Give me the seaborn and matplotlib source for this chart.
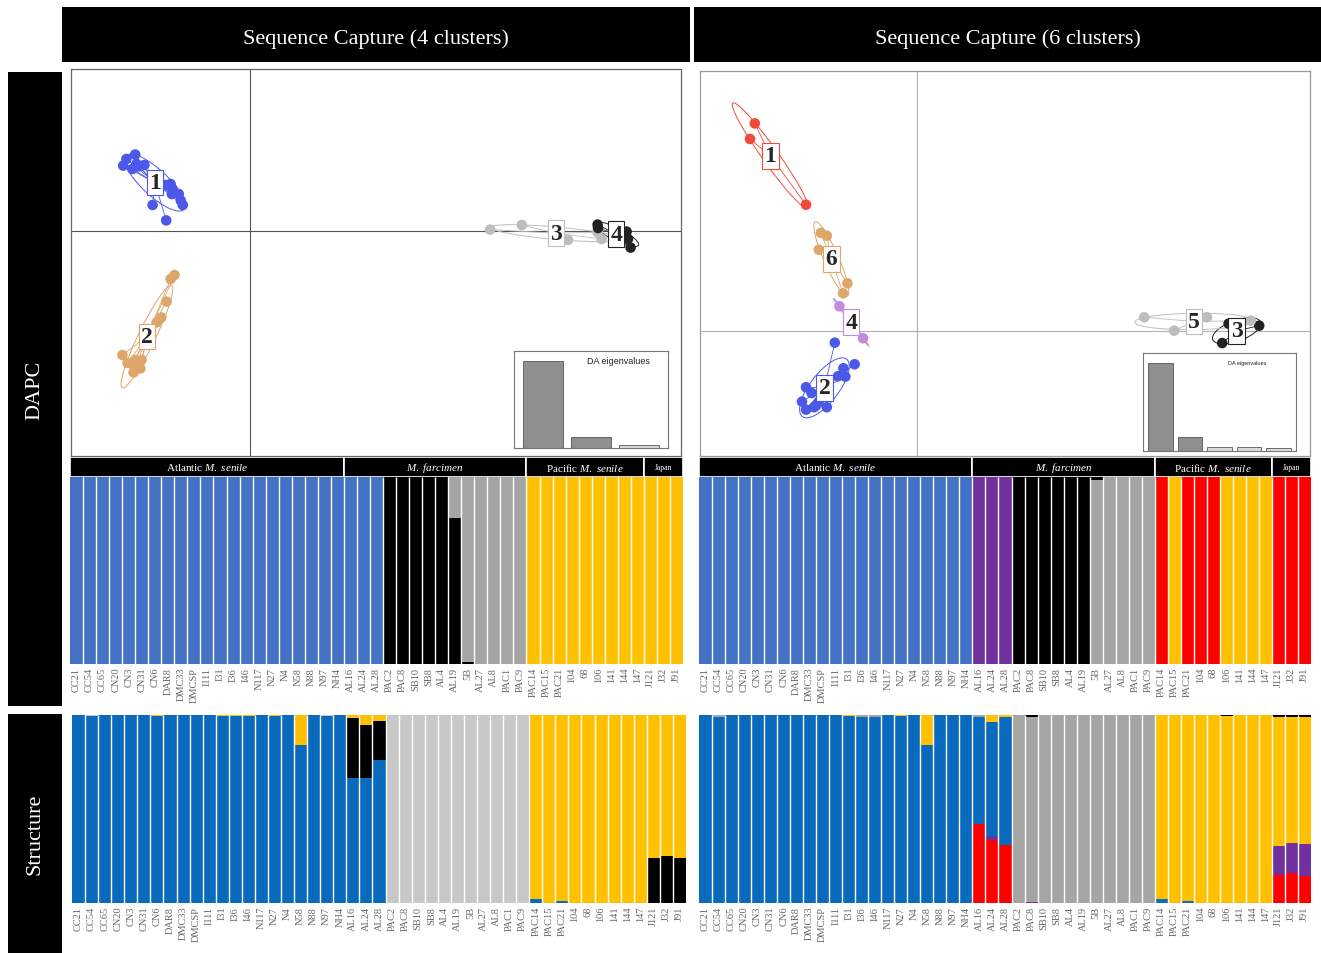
import numpy as np
import pandas as pd
import matplotlib
matplotlib.use("Agg")
import matplotlib.pyplot as plt
from matplotlib.patches import Ellipse, Rectangle
import seaborn as sns

sns.set_theme(style="white")
plt.rcParams['font.family'] = ['Liberation Serif', 'DejaVu Serif']
plt.rcParams['mathtext.fontset'] = 'custom'
plt.rcParams['mathtext.rm'] = 'Liberation Serif'
plt.rcParams['mathtext.it'] = 'Liberation Serif:italic'

W, H = 1321, 954

# ---------------- sample order / groups ----------------
samples = ["CC21", "CC54", "CC65", "CN20", "CN3", "CN31", "CN6", "DAR8", "DMC33", "DMCSP", "I111",
           "I31", "I36", "I46", "N117", "N27", "N4", "N58", "N88", "N97", "NH4",
           "AL16", "AL24", "AL28", "PAC2", "PAC8", "SB10", "SB8", "AL4", "AL19",
           "5B", "AL27", "AL8", "PAC1", "PAC9",
           "PAC14", "PAC15", "PAC21", "104", "68", "106", "141", "144", "147",
           "J121", "J32", "J91"]
group_names = ["Atlantic $\\mathit{M.\\ senile}$", "$\\mathit{M.\\ farcimen}$",
               "Pacific $\\mathit{M.\\ senile}$", "Japan"]
group_sizes = [21, 14, 9, 3]
group_fontsize = [8, 8, 8, 5.5]

# ---------------- DAPC assignments, 4 clusters (bottom -> top) ----------------
# rows: Atlantic(21) | AL16-AL28 | PAC2-AL19 | 5B-PAC9 | Pacific(9) | Japan(3)
dapc4_blue = [1, 1, 1, 1, 1, 1, 1, 1, 1, 1, 1, 1, 1, 1, 1, 1, 1, 1, 1, 1, 1,
              1, 1, 1, 0, 0, 0, 0, 0, 0, 0, 0, 0, 0, 0,
              0, 0, 0, 0, 0, 0, 0, 0, 0, 0, 0, 0]
dapc4_black = [0, 0, 0, 0, 0, 0, 0, 0, 0, 0, 0, 0, 0, 0, 0, 0, 0, 0, 0, 0, 0,
               0, 0, 0, 1, 1, 1, 1, 1, 0.78, 0.01, 0, 0, 0, 0,
               0, 0, 0, 0, 0, 0, 0, 0, 0, 0, 0, 0]
dapc4_gray = [0, 0, 0, 0, 0, 0, 0, 0, 0, 0, 0, 0, 0, 0, 0, 0, 0, 0, 0, 0, 0,
              0, 0, 0, 0, 0, 0, 0, 0, 0.22, 0.99, 1, 1, 1, 1,
              0, 0, 0, 0, 0, 0, 0, 0, 0, 0, 0, 0]
dapc4_gold = [0, 0, 0, 0, 0, 0, 0, 0, 0, 0, 0, 0, 0, 0, 0, 0, 0, 0, 0, 0, 0,
              0, 0, 0, 0, 0, 0, 0, 0, 0, 0, 0, 0, 0, 0,
              1, 1, 1, 1, 1, 1, 1, 1, 1, 1, 1, 1]

# ---------------- DAPC assignments, 6 clusters ----------------
dapc6_blue = [1, 1, 1, 1, 1, 1, 1, 1, 1, 1, 1, 1, 1, 1, 1, 1, 1, 1, 1, 1, 1,
              0, 0, 0, 0, 0, 0, 0, 0, 0, 0, 0, 0, 0, 0,
              0, 0, 0, 0, 0, 0, 0, 0, 0, 0, 0, 0]
dapc6_purple = [0, 0, 0, 0, 0, 0, 0, 0, 0, 0, 0, 0, 0, 0, 0, 0, 0, 0, 0, 0, 0,
                1, 1, 1, 0, 0, 0, 0, 0, 0, 0, 0, 0, 0, 0,
                0, 0, 0, 0, 0, 0, 0, 0, 0, 0, 0, 0]
dapc6_gray = [0, 0, 0, 0, 0, 0, 0, 0, 0, 0, 0, 0, 0, 0, 0, 0, 0, 0, 0, 0, 0,
              0, 0, 0, 0, 0, 0, 0, 0, 0, 0.985, 1, 1, 1, 1,
              0, 0, 0, 0, 0, 0, 0, 0, 0, 0, 0, 0]
dapc6_black = [0, 0, 0, 0, 0, 0, 0, 0, 0, 0, 0, 0, 0, 0, 0, 0, 0, 0, 0, 0, 0,
               0, 0, 0, 1, 1, 1, 1, 1, 1, 0.015, 0, 0, 0, 0,
               0, 0, 0, 0, 0, 0, 0, 0, 0, 0, 0, 0]
dapc6_red = [0, 0, 0, 0, 0, 0, 0, 0, 0, 0, 0, 0, 0, 0, 0, 0, 0, 0, 0, 0, 0,
             0, 0, 0, 0, 0, 0, 0, 0, 0, 0, 0, 0, 0, 0,
             1, 0, 1, 1, 1, 0, 0, 0, 0, 1, 1, 1]
dapc6_gold = [0, 0, 0, 0, 0, 0, 0, 0, 0, 0, 0, 0, 0, 0, 0, 0, 0, 0, 0, 0, 0,
              0, 0, 0, 0, 0, 0, 0, 0, 0, 0, 0, 0, 0, 0,
              0, 1, 0, 0, 0, 1, 1, 1, 1, 0, 0, 0]

# ---------------- Structure, K=4 (bottom -> top) ----------------
str4_blue = [1, 0.995, 1, 1, 1, 1, 0.995, 1, 1, 1, 1, 0.995, 0.995, 0.995, 1, 0.995, 1, 0.84, 1, 0.995, 1,
             0.665, 0.665, 0.76, 0, 0, 0, 0, 0, 0, 0, 0, 0, 0, 0,
             0.02, 0, 0.01, 0, 0, 0, 0, 0, 0, 0, 0, 0]
str4_black = [0, 0, 0, 0, 0, 0, 0, 0, 0, 0, 0, 0, 0, 0, 0, 0, 0, 0, 0, 0, 0,
              0.32, 0.28, 0.21, 0, 0, 0, 0, 0, 0, 0, 0, 0, 0, 0,
              0, 0, 0, 0, 0, 0, 0, 0, 0, 0.24, 0.25, 0.24]
str4_gray = [0, 0.005, 0, 0, 0, 0, 0, 0, 0, 0, 0, 0, 0, 0, 0, 0, 0, 0, 0, 0.005, 0,
             0, 0, 0, 1, 1, 1, 1, 1, 1, 1, 1, 1, 1, 1,
             0, 0, 0, 0, 0, 0, 0, 0, 0, 0, 0, 0]
str4_gold = [0, 0, 0, 0, 0, 0, 0.005, 0, 0, 0, 0, 0.005, 0.005, 0.005, 0, 0.005, 0, 0.16, 0, 0, 0,
             0.015, 0.055, 0.03, 0, 0, 0, 0, 0, 0, 0, 0, 0, 0, 0,
             0.98, 1, 0.99, 1, 1, 1, 1, 1, 1, 0.76, 0.75, 0.76]

# ---------------- Structure, K=6 (bottom -> top) ----------------
str6_red = [0, 0, 0, 0, 0, 0, 0, 0, 0, 0, 0, 0, 0, 0, 0, 0, 0, 0, 0, 0, 0,
            0.42, 0.335, 0.31, 0, 0, 0, 0, 0, 0, 0, 0, 0, 0, 0,
            0, 0, 0, 0, 0, 0, 0, 0, 0, 0.15, 0.16, 0.145]
str6_purple = [0, 0, 0, 0, 0, 0, 0, 0, 0, 0, 0, 0, 0, 0, 0, 0, 0, 0, 0, 0, 0,
               0, 0.02, 0, 0, 0.005, 0, 0, 0, 0, 0, 0, 0, 0, 0,
               0, 0, 0, 0, 0, 0, 0, 0, 0, 0.155, 0.16, 0.17]
str6_blue = [1, 0.99, 1, 1, 1, 1, 1, 1, 1, 1, 1, 0.995, 0.99, 0.99, 1, 0.995, 1, 0.84, 1, 1, 1,
             0.57, 0.61, 0.68, 0, 0, 0, 0, 0, 0, 0, 0, 0, 0, 0,
             0.02, 0, 0.01, 0, 0, 0, 0, 0, 0, 0, 0, 0]
str6_gray = [0, 0.01, 0, 0, 0, 0, 0, 0, 0, 0, 0, 0, 0.01, 0.01, 0, 0, 0, 0, 0, 0, 0,
             0.01, 0, 0, 1, 0.985, 1, 1, 1, 1, 1, 1, 1, 1, 1,
             0, 0, 0, 0, 0, 0, 0, 0, 0, 0, 0, 0]
str6_gold = [0, 0, 0, 0, 0, 0, 0, 0, 0, 0, 0, 0.005, 0, 0, 0, 0.005, 0, 0.16, 0, 0, 0,
             0, 0.035, 0.01, 0, 0, 0, 0, 0, 0, 0, 0, 0, 0, 0,
             0.98, 1, 0.99, 1, 1, 0.995, 1, 1, 1, 0.685, 0.67, 0.675]
str6_black = [0, 0, 0, 0, 0, 0, 0, 0, 0, 0, 0, 0, 0, 0, 0, 0, 0, 0, 0, 0, 0,
              0, 0, 0, 0, 0.01, 0, 0, 0, 0, 0, 0, 0, 0, 0,
              0, 0, 0, 0, 0, 0.005, 0, 0, 0, 0.01, 0.01, 0.01]

# ---------------- DAPC scatter (LD1, LD2), 4 clusters ----------------
k4_c1_x = [-5.74, -6.18, -6.34, -5.88, -5.58, -5.28, -5.68, -4.23, -3.97, -3.87, -3.91, -3.56, -3.46, -3.36, -4.87, -4.19]
k4_c1_y = [3.82, 3.60, 3.27, 3.10, 3.23, 3.30, 3.35, 2.30, 2.35, 2.10, 1.85, 1.85, 1.52, 1.30, 1.30, 0.53]
k4_c2_x = [-3.77, -3.97, -4.17, -4.43, -4.67, -6.38, -6.12, -5.74, -5.42, -5.88, -5.48, -5.82]
k4_c2_y = [-2.20, -2.40, -3.53, -4.32, -4.57, -6.20, -6.60, -6.45, -6.45, -6.65, -6.87, -7.07]
k4_c3_x = [12.0, 13.59, 15.9, 17.38, 17.58]
k4_c3_y = [0.07, 0.30, -0.45, -0.07, -0.40]
k4_c4_x = [17.38, 17.4, 18.83, 18.9, 19.03]
k4_c4_y = [0.32, 0.15, -0.03, -0.40, -0.83]
k4_eig = [1.0, 0.13, 0.037]

# ---------------- DAPC scatter, 6 clusters ----------------
k6_c1_x = [-8.09, -8.33, -5.53]
k6_c1_y = [10.37, 9.59, 6.30]
k6_c2_x = [-4.09, -3.10, -3.66, -3.93, -3.56, -5.53, -5.25, -5.73, -5.53, -5.13, -4.89, -4.49, -5.03]
k6_c2_y = [-0.60, -1.68, -1.88, -2.28, -2.30, -2.83, -3.12, -3.55, -3.95, -3.83, -3.58, -3.83, -3.75]
k6_c3_x = [17.13, 15.28, 15.6]
k6_c3_y = [0.25, -0.62, 0.35]
k6_c4_x = [-3.86, -2.68]
k6_c4_y = [1.22, -0.38]
k6_c5_x = [11.38, 14.52, 12.88, 16.71]
k6_c5_y = [0.67, 0.67, 0.0, 0.50]
k6_c6_x = [-4.79, -4.49, -4.89, -3.46, -3.68]
k6_c6_y = [4.89, 4.75, 4.05, 2.37, 1.87]
k6_eig = [1.0, 0.16, 0.05, 0.04, 0.03]

# colours
BLUE_D, BLUE_S = "#4472C4", "#0A6ABE"
GOLD, RED, PURPLE = "#FFC000", "#FF0000", "#7030A0"
GRAY, LGRAY = "#A5A5A5", "#C8C8C8"
pt_blue, pt_tan, pt_lgray, pt_dark, pt_red, pt_lilac = "#4B58E8", "#DEA66A", "#BDBDBD", "#222222", "#F2493A", "#C48BDD"

fig = plt.figure(figsize=(W / 100, H / 100), dpi=100)
fig.patch.set_facecolor("white")


def px_axes(x0, y0, x1, y1):
    return fig.add_axes([x0 / W, 1 - y1 / H, (x1 - x0) / W, (y1 - y0) / H])


def black_box(x0, y0, x1, y1, text, rot=0, size=16, dy=0.0):
    ax = px_axes(x0, y0, x1, y1)
    ax.set_facecolor("black")
    ax.set_xticks([])
    ax.set_yticks([])
    for s in ax.spines.values():
        s.set_visible(False)
    ax.text(0.5, 0.5 + dy, text, color="white", ha="center", va="center",
            fontsize=size, rotation=rot, transform=ax.transAxes)


black_box(62, 8, 690, 63, "Sequence Capture (4 clusters)", dy=-0.06)
black_box(694, 8, 1321, 63, "Sequence Capture (6 clusters)", dy=-0.06)
black_box(8, 73, 62, 707, "DAPC", rot=90)
black_box(8, 715, 62, 954, "Structure", rot=90)


def dapc_scatter(box, clusters, xlim, ylim, line_col, frame_col):
    ax = px_axes(*box)
    rows = []
    for lab, xs, ys, col in clusters:
        for x, y in zip(xs, ys):
            rows.append((lab, x, y))
    df = pd.DataFrame(rows, columns=["cluster", "LD1", "LD2"])
    ax.axhline(0, color=line_col, lw=0.8, zorder=0)
    ax.axvline(0, color=line_col, lw=0.8, zorder=0)
    for lab, xs, ys, col in clusters:
        xs, ys = np.array(xs), np.array(ys)
        cx, cy = xs.mean(), ys.mean()
        for x, y in zip(xs, ys):
            ax.plot([cx, x], [cy, y], color=col, lw=0.6, zorder=1)
        cov = np.cov(xs, ys, bias=True)
        vals, vecs = np.linalg.eigh(cov)
        vals = np.clip(vals, 1e-3, None)
        ang = np.degrees(np.arctan2(vecs[1, 1], vecs[0, 1]))
        ax.add_patch(Ellipse((cx, cy), 2 * 1.5 * np.sqrt(vals[1]), 2 * 1.5 * np.sqrt(vals[0]),
                             angle=ang, fill=False, ec=col, lw=0.7, zorder=1))
    pal = {lab: col for lab, _, _, col in clusters}
    sns.scatterplot(data=df, x="LD1", y="LD2", hue="cluster", palette=pal, s=58,
                    linewidth=0, legend=False, ax=ax, zorder=2)
    for lab, xs, ys, col in clusters:
        ax.text(np.mean(xs), np.mean(ys), lab, ha="center", va="center", fontsize=17,
                fontweight="bold", zorder=4,
                bbox=dict(boxstyle="square,pad=0.1", fc="white", ec=col, lw=0.8))
    ax.set_xlim(*xlim)
    ax.set_ylim(*ylim)
    ax.set_xticks([])
    ax.set_yticks([])
    ax.set_xlabel("")
    ax.set_ylabel("")
    for s in ax.spines.values():
        s.set_color(frame_col)
        s.set_linewidth(0.9)
    return ax


def eig_inset(box, vals, n_dark, title_size):
    ax = px_axes(*box)
    idx = [str(i) for i in range(len(vals))]
    pal = {k: ("#8F8F8F" if i < n_dark else "#DADADA") for i, k in enumerate(idx)}
    sns.barplot(x=idx, y=vals, hue=idx, palette=pal, legend=False, width=0.84,
                edgecolor="#555555", linewidth=0.6, saturation=1, ax=ax)
    ax.set_xlim(-0.6, len(vals) - 0.4)
    ax.set_ylim(0, 1.11)
    ax.set_xticks([])
    ax.set_yticks([])
    ax.set_xlabel("")
    ax.set_ylabel("")
    for s in ax.spines.values():
        s.set_color("#777777")
        s.set_linewidth(0.8)
    ax.text(0.68, 0.9, "DA eigenvalues", transform=ax.transAxes, ha="center",
            va="center", fontsize=title_size, family=["Liberation Sans", "DejaVu Sans"], color="#222222")


dapc_scatter((71, 70, 681, 457),
             [("1", k4_c1_x, k4_c1_y, pt_blue), ("2", k4_c2_x, k4_c2_y, pt_tan),
              ("3", k4_c3_x, k4_c3_y, pt_lgray), ("4", k4_c4_x, k4_c4_y, pt_dark)],
             (-8.95, 21.55), (-11.25, 8.1), "#555555", "#666666")
eig_inset((514, 352, 668, 449), k4_eig, 2, 6.5)

dapc_scatter((700, 72, 1310, 457),
             [("1", k6_c1_x, k6_c1_y, pt_red), ("2", k6_c2_x, k6_c2_y, pt_blue),
              ("3", k6_c3_x, k6_c3_y, pt_dark), ("4", k6_c4_x, k6_c4_y, pt_lilac),
              ("5", k6_c5_x, k6_c5_y, pt_lgray), ("6", k6_c6_x, k6_c6_y, pt_tan)],
             (-10.83, 19.67), (-6.27, 12.99), "#B0B0B0", "#999999")
eig_inset((1143, 354, 1296, 452), k6_eig, 2, 4)


def group_header(box):
    ax = px_axes(*box)
    bounds = np.cumsum([0] + group_sizes) - 0.5
    for name, a, b, fs in zip(group_names, bounds[:-1], bounds[1:], group_fontsize):
        ax.add_patch(Rectangle((a, 0), b - a, 1, fc="black", ec="white", lw=1.2))
        ax.text((a + b) / 2, 0.5, name, color="white", ha="center", va="center", fontsize=fs)
    ax.set_xlim(-0.5, len(samples) - 0.5)
    ax.set_ylim(0, 1)
    ax.axis("off")


def stacked(box, comps):
    ax = px_axes(*box)
    vals = np.array([c[0] for c in comps], dtype=float)
    cum = np.cumsum(vals, axis=0)
    for k in range(len(comps) - 1, -1, -1):
        sns.barplot(x=samples, y=cum[k], order=samples, color=comps[k][1], width=1,
                    linewidth=0, saturation=1, errorbar=None, ax=ax)
    ax.vlines(np.arange(len(samples) - 1) + 0.5, 0, 1, colors="white", lw=1.0)
    ax.set_xlim(-0.5, len(samples) - 0.5)
    ax.set_ylim(0, 1)
    ax.set_yticks([])
    ax.set_xlabel("")
    ax.set_ylabel("")
    ax.tick_params(axis="x", labelrotation=90, labelsize=7.5, colors="#666666", length=0, pad=2)
    for s in ax.spines.values():
        s.set_visible(False)
    return ax


group_header((70, 458, 683, 478))
group_header((699, 458, 1311, 478))

stacked((70, 478, 683, 665), [(dapc4_blue, BLUE_D), (dapc4_black, "black"),
                              (dapc4_gray, GRAY), (dapc4_gold, GOLD)])
stacked((699, 478, 1311, 665), [(dapc6_blue, BLUE_D), (dapc6_purple, PURPLE), (dapc6_gray, GRAY),
                                (dapc6_black, "black"), (dapc6_red, RED), (dapc6_gold, GOLD)])

stacked((72, 716, 686, 904), [(str4_blue, BLUE_S), (str4_black, "black"),
                              (str4_gray, LGRAY), (str4_gold, GOLD)])
stacked((699, 716, 1311, 904), [(str6_red, RED), (str6_purple, PURPLE), (str6_blue, BLUE_S),
                                (str6_gray, GRAY), (str6_gold, GOLD), (str6_black, "black")])

fig.savefig("out.png", dpi=100)
